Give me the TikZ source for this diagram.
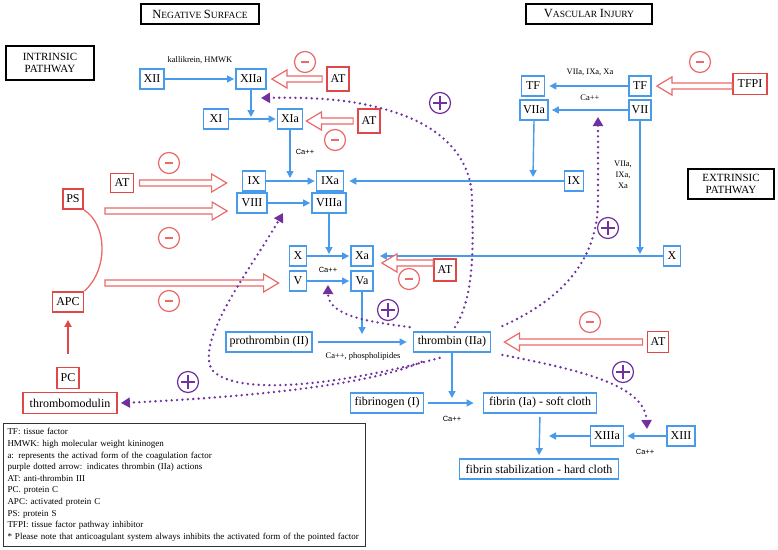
\documentclass[tikz,border=0pt]{standalone}
\usepackage{fontspec}
\setmainfont{Liberation Serif}
\newfontfamily\arialfont{Liberation Sans}
\usetikzlibrary{arrows.meta,calc}
\definecolor{cblue}{RGB}{72,155,235}
\definecolor{cred}{RGB}{224,72,72}
\definecolor{cred2}{RGB}{234,105,105}
\definecolor{cpurp}{RGB}{112,48,160}
\newcommand\fsc[2]{{\fontsize{12.5}{13}\selectfont #1}{\fontsize{9.5}{10}\selectfont #2}}
\newcommand\holarrow[2]{%
  \draw[holl] let \p1=#1, \p2=#2, \n1={sign(\x2-\x1)} in
   (\x1,\y1+3pt) -- ({\x2-(\n1)*15pt},\y1+3pt) -- ({\x2-(\n1)*15pt},\y1+9pt) -- (\x2,\y1)
   -- ({\x2-(\n1)*15pt},\y1-9pt) -- ({\x2-(\n1)*15pt},\y1-3pt) -- (\x1,\y1-3pt) -- cycle;}
\tikzset{
  bbox/.style={draw=cblue, line width=1.8pt, inner xsep=3pt, inner ysep=1pt, minimum height=20pt,
    font=\fontsize{12}{14}\selectfont, fill=white},
  rbox/.style={draw=cred, line width=1.8pt, inner xsep=3pt, inner ysep=1pt, minimum height=21pt,
    font=\fontsize{12}{14}\selectfont, fill=white},
  hbox/.style={draw=black, line width=1.6pt, inner sep=2pt, fill=white, align=center},
  barr/.style={draw=cblue, line width=1.4pt, -{Triangle[length=7pt,width=7pt]}},
  holl/.style={draw=cred2, line width=1.2pt, fill=white, line join=miter},
  dotarr/.style={draw=cpurp, line width=2.6pt, line cap=round, dash pattern=on 0pt off 5.4pt,
    -{Triangle[length=9pt,width=10pt]}},
  plusc/.style={circle, draw=cpurp, line width=1.2pt, minimum size=21pt, inner sep=0pt,
    path picture={\draw[cpurp, line width=1.2pt]
      ($(path picture bounding box.center)+(-7,0)$) -- ($(path picture bounding box.center)+(7,0)$)
      ($(path picture bounding box.center)+(0,-7)$) -- ($(path picture bounding box.center)+(0,7)$);}},
  minusc/.style={circle, draw=cred2, line width=1.2pt, minimum size=21pt, inner sep=0pt,
    path picture={\draw[cred2, line width=1.4pt]
      ($(path picture bounding box.center)+(-4,0)$) -- ($(path picture bounding box.center)+(4,0)$);}},
  lab/.style={font=\fontsize{8.5}{11}\selectfont, inner sep=1pt, align=center},
  cal/.style={font=\arialfont\fontsize{7.5}{9}\selectfont, inner sep=1pt},
}
\begin{document}
\begin{tikzpicture}[x=1pt,y=-1pt]
\useasboundingbox[fill=white] (0,0) rectangle (778,549);

% headers
\node[hbox, minimum width=118pt, minimum height=20pt] (neg) at (200,14) {\fsc{N}{EGATIVE}~\fsc{S}{URFACE}};
\node[hbox, minimum width=126pt, minimum height=20pt] (vasc) at (589,14) {\fsc{V}{ASCULAR}~\fsc{I}{NJURY}};
\node[hbox, minimum width=88pt, minimum height=34pt, font=\fontsize{11}{12.5}\selectfont] (intr) at (50,63) {INTRINSIC\\PATHWAY};
\node[hbox, minimum width=86pt, minimum height=30pt, font=\fontsize{11}{12.5}\selectfont] (extr) at (731,184) {EXTRINSIC\\PATHWAY};

% intrinsic cascade
\node[lab] (kal) at (200,60) {kallikrein, HMWK};
\node[bbox, minimum width=24pt] (xii) at (152,79) {XII};
\node[bbox, minimum width=30pt] (xiia) at (251,79) {XIIa};
\node[rbox, minimum width=22pt, minimum height=24pt] (at1) at (338,79) {AT};
\node[bbox, minimum width=25pt] (xi) at (216,119) {XI};
\node[bbox, minimum width=25pt] (xia) at (290,119) {XIa};
\node[rbox, minimum width=22pt, minimum height=24pt] (at2) at (369,121) {AT};
\node[cal] (ca1) at (305,152) {Ca++};
\node[bbox, minimum width=23pt] (ix) at (254,181) {IX};
\node[bbox, minimum width=27pt] (ixa) at (330,181) {IXa};
\node[bbox, minimum width=30pt] (viii) at (252,203) {VIII};
\node[bbox, minimum width=34pt] (viiia) at (329,203) {VIIIa};
\node[rbox, minimum width=23pt, minimum height=19pt] (at3) at (122,183) {AT};
\node[rbox, minimum width=20pt, minimum height=20pt] (ps) at (73,199) {PS};
\node[rbox, minimum width=31pt, minimum height=20pt] (apc) at (68,302) {APC};
\node[rbox, minimum width=22pt, minimum height=21pt] (pc) at (68,378) {PC};
\node[rbox, minimum width=94pt, minimum height=21pt] (tm) at (70,403) {thrombomodulin};
\node[bbox, minimum width=17pt] (x) at (298,256) {X};
\node[bbox, minimum width=17pt] (v) at (298,281) {V};
\node[bbox, minimum width=22pt] (xa) at (362,256) {Xa};
\node[bbox, minimum width=22pt] (va) at (362,281) {Va};
\node[cal] (ca2) at (328,270) {Ca++};
\node[rbox, minimum width=22pt, minimum height=22pt] (at4) at (445,270) {AT};
\node[bbox, minimum width=86pt] (pl) at (269,342) {prothrombin (II)};
\node[bbox, minimum width=77pt] (th) at (452,342) {thrombin (IIa)};
\node[lab] (ca3) at (363,356) {Ca++, phospholipides};
\node[rbox, minimum width=21pt, minimum height=21pt] (at5) at (658,342) {AT};
\node[bbox, minimum width=73pt] (fbg) at (387,403) {fibrinogen (I)};
\node[bbox, minimum width=113pt] (fib) at (540,403) {fibrin (Ia) - soft cloth};
\node[cal] (ca4) at (452,419) {Ca++};
\node[bbox, minimum width=159pt] (stab) at (539,469) {fibrin stabilization - hard cloth};
\node[bbox, minimum width=33pt] (xiiia) at (607,436) {XIIIa};
\node[bbox, minimum width=28pt] (xiii) at (681,436) {XIII};
\node[cal] (ca5) at (645,452) {Ca++};

% extrinsic
\node[bbox, minimum width=23pt] (tfl) at (533,86) {TF};
\node[bbox, minimum width=26pt] (viia) at (534,110) {VIIa};
\node[bbox, minimum width=22pt] (tfr) at (640,86) {TF};
\node[bbox, minimum width=22pt] (vii) at (640,110) {VII};
\node[rbox, minimum width=34pt, minimum height=21pt] (tfpi) at (750,84) {TFPI};
\node[lab] (lab1) at (590,72) {VIIa, IXa, Xa};
\node[lab] (lab2) at (590,98) {Ca++};
\node[lab] (lab3) at (623,175) {VIIa,\\IXa,\\Xa};
\node[bbox, minimum width=19pt] (ixe) at (574,181) {IX};
\node[bbox, minimum width=17pt] (xe) at (672,256) {X};

% junction coordinates
\coordinate (j1) at (251,117);
\coordinate (j2) at (290,178);
\coordinate (j3) at (329,254);
\coordinate (j4) at (362,334);
\coordinate (j5) at (452,398);
\coordinate (j6) at (549,436);
\coordinate (j7) at (533,177);
\coordinate (j8) at (640,254);

% blue arrows
\draw[barr, shorten >=1pt] (xii.east) -- (xiia.west);
\draw[barr] (xiia.south) -- (j1);
\draw[barr, shorten >=1pt] (xi.east) -- (xia.west);
\draw[barr] (xia.south) -- (j2);
\draw[barr, shorten >=1pt] (ix.east) -- (ixa.west);
\draw[barr, shorten >=1pt] (viii.east) -- (viiia.west);
\draw[barr] (viiia.south) -- (j3);
\draw[barr, shorten >=1pt] (x.east) -- (xa.west);
\draw[barr, shorten >=1pt] (v.east) -- (va.west);
\draw[barr] (va.south) -- (j4);
\draw[barr, shorten <=5pt, shorten >=6pt] (pl.east) -- (th.west);
\draw[barr] (th.south) -- (j5);
\draw[barr, shorten <=4pt, shorten >=9pt] (fbg.east) -- (fib.west);
\draw[barr, shorten <=3pt, shorten >=3pt] (fib.south) -- (stab.north);
\draw[barr, shorten >=3pt] (xiii.west) -- (xiiia.east);
\draw[barr] (xiiia.west) -- (j6);
\draw[barr, shorten >=4pt] (tfr.west) -- (tfl.east);
\draw[barr, shorten >=3pt] (vii.west) -- (viia.east);
\draw[barr] (viia.south) -- (j7);
\draw[barr] (vii.south) -- (j8);
\draw[barr, shorten >=5pt] (ixe.west) -- (ixa.east);
\draw[barr, shorten >=6pt] (xe.west) -- (xa.east);

% red inhibition (hollow) arrows
\coordinate (psA) at (105,211);
\coordinate (apcA) at (105,283);
\holarrow{($(at1.west)+(-4,0)$)}{($(xiia.east)+(5,0)$)}
\holarrow{($(at2.west)+(-4,0)$)}{($(xia.east)+(3,2)$)}
\holarrow{($(at3.east)+(5,0)$)}{($(ix.west)+(-15,2)$)}
\holarrow{(psA)}{($(viii.west)+(-9,8)$)}
\holarrow{(apcA)}{($(v.west)+(-10,2)$)}
\holarrow{($(at4.west)+(0,-7)$)}{($(xa.east)+(8,7)$)}
\holarrow{($(at5.west)+(-4,0)$)}{($(th.east)+(13,0)$)}
\holarrow{($(tfpi.west)+(0,2)$)}{($(tfr.east)+(5,0)$)}

% PS - APC, PC -> APC
\draw[cred2, line width=1.3pt] (ps.south east) .. controls (108,225) and (108,270) .. (apc.north east);
\draw[cred, line width=1.8pt, -{Triangle[length=7pt,width=7pt]}] ($(pc.north)+(0,-13)$) -- ($(apc.south)+(0,7)$);

% minus signs
\node[minusc] (m1) at (305,62) {};
\node[minusc] (m2) at (335,140) {};
\node[minusc] (m3) at (169,163) {};
\node[minusc] (m4) at (169,238) {};
\node[minusc] (m5) at (169,301) {};
\node[minusc] (m6) at (409,279) {};
\node[minusc] (m7) at (590,322) {};
\node[minusc] (m8) at (700,62) {};

% plus signs
\node[plusc] (p1) at (440,103) {};
\node[plusc] (p2) at (608,228) {};
\node[plusc] (p3) at (388,310) {};
\node[plusc] (p4) at (188,382) {};
\node[plusc] (p5) at (623,372) {};

% thrombin actions (purple dotted)
\coordinate (eA) at (261,98);
\coordinate (eB) at (598,117);
\coordinate (eC) at (328,285);
\coordinate (eD) at (283,213);
\coordinate (eF) at (647,429);
\draw[dotarr] ($(th.north)+(3,-4)$) .. controls (472,300) and (474,260) .. (472,200)
   .. controls (472,160) and (445,130) .. (400,114) .. controls (360,100) and (320,97) .. (eA);
\draw[dotarr] ($(th.north east)+(11,-5)$) .. controls (560,300) and (598,262) .. (598,200) -- (eB);
\draw[dotarr] ($(th.north west)+(-3,-4)$) .. controls (370,322) and (328,316) .. (eC);
\draw[dotarr] ($(th.south west)+(27,5)$) .. controls (360,380) and (240,400) .. (212,370)
   .. controls (195,340) and (250,270) .. (eD);
\draw[dotarr] ($(th.south west)+(9,9)$) .. controls (370,385) and (250,397) .. ($(tm.east)+(3,0)$);
\draw[dotarr] ($(th.south east)+(11,2)$) .. controls (580,370) and (645,385) .. (eF);

% legend
\node[draw=black!80, line width=1pt, anchor=north west, inner xsep=4pt, inner ysep=5pt,
  text width=354pt, align=left, font=\fontsize{9}{11.6}\selectfont] (legend) at (3,423) {%
TF: tissue factor\\
HMWK: high molecular weight kininogen\\
a: represents the activad form of the coagulation factor\\
purple dotted arrow: indicates thrombin (IIa) actions\\
AT: anti-thrombin III\\
PC. protein C\\
APC: activated protein C\\
PS: protein S\\
TFPI: tissue factor pathway inhibitor\\{}%
* Please note that anticoagulant system always inhibits the activated form of the pointed factor};
\end{tikzpicture}
\end{document}
